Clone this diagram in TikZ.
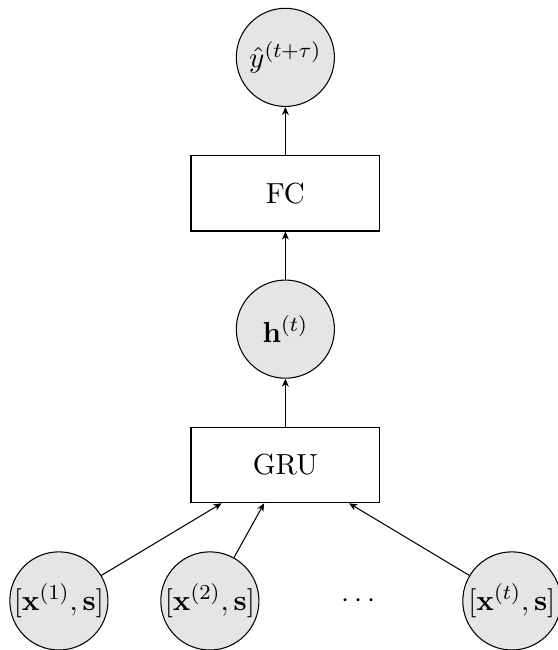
\documentclass[tikz,border=0pt,11pt]{standalone}
\usepackage{amsmath}
\usetikzlibrary{arrows.meta}
\begin{document}
\begin{tikzpicture}[>={Stealth[length=3pt,width=2.6pt,inset=0.9pt]},
  var/.style={circle, draw, fill=gray!20, minimum size=1.3cm, inner sep=0.3pt},
  layer/.style={rectangle, draw, minimum width=2.5cm, minimum height=1cm}]
\useasboundingbox (-0.78,-0.65) rectangle (6.61,7.96);
\node[var] (x1) at (0,0) {$[\mathbf{x}^{(1)}, \mathbf{s}]$};
\node[var] (x2) at (2,0) {$[\mathbf{x}^{(2)}, \mathbf{s}]$};
\node (dots) at (4,0) {$\cdots$};
\node[var] (xt) at (6,0) {$[\mathbf{x}^{(t)}, \mathbf{s}]$};
\node[layer] (gru) at (3,1.8) {GRU};
\node[var] (h) at (3,3.6) {$\mathbf{h}^{(t)}$};
\node[layer] (fc) at (3,5.4) {FC};
\node[var] (y) at (3,7.2) {$\hat{y}^{(t+\tau)}$};
\draw[->] (x1) -- (gru);
\draw[->] (x2) -- (gru);
\draw[->] (xt) -- (gru);
\draw[->] (gru) -- (h);
\draw[->] (h) -- (fc);
\draw[->] (fc) -- (y);
\end{tikzpicture}
\end{document}
